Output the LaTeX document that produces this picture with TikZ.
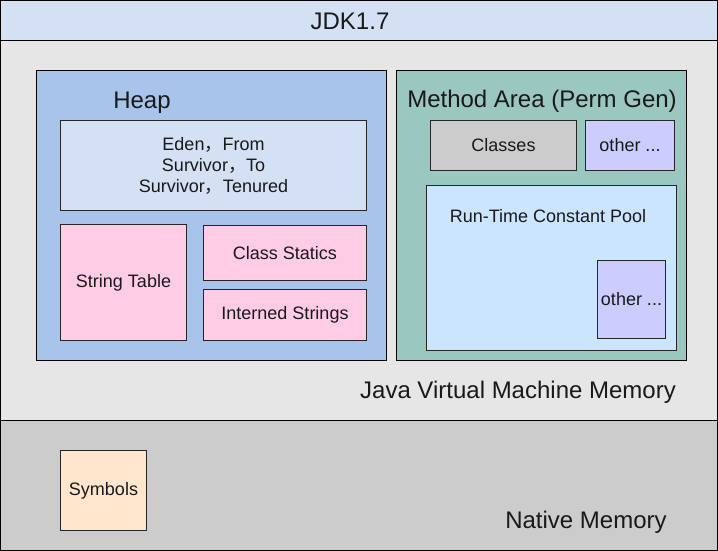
\documentclass[tikz,border=0pt]{standalone}
\usepackage{fontspec}
\setmainfont{Liberation Sans}
\newfontfamily\cjk{Noto Sans CJK SC}
\usepackage{tikz}
\usetikzlibrary{positioning}

\definecolor{jdkblue}{HTML}{D4E1F5}
\definecolor{jvmgray}{HTML}{E6E6E6}
\definecolor{nativegray}{HTML}{CCCCCC}
\definecolor{heapblue}{HTML}{A9C4EB}
\definecolor{permgreen}{HTML}{9AC7BF}
\definecolor{pinkbox}{HTML}{FFCCE6}
\definecolor{lilacbox}{HTML}{CCCCFF}
\definecolor{poolblue}{HTML}{CCE5FF}
\definecolor{peachbox}{HTML}{FFE6CC}

\begin{document}
\begin{tikzpicture}[x=1pt, y=-1pt,
areabox/.style={rectangle, draw=black, line width=1pt, anchor=north west, inner sep=0pt, outer sep=0pt},
squarednode/.style={rectangle, draw=black!85, line width=1pt, anchor=north west, inner sep=0pt, outer sep=0pt, font=\fontsize{18}{21}\selectfont, text=black!90, align=center},
titlenode/.style={inner sep=0pt, font=\fontsize{24}{28}\selectfont, text=black!90},
]
\useasboundingbox (0,0) rectangle (718,551);
%Areas
\node[areabox, fill=jdkblue, minimum width=717, minimum height=40]      (JDK)      at (0.5,0.5)  {};
\node[areabox, fill=jvmgray, minimum width=717, minimum height=380]     (JVM)      at (0.5,40.5) {};
\node[areabox, fill=nativegray, minimum width=717, minimum height=130]  (Native)   at (0.5,420.5) {};
\node[areabox, fill=heapblue, minimum width=350, minimum height=290]    (Heap)     at (36.5,70.5) {};
\node[areabox, fill=permgreen, minimum width=290, minimum height=290]   (PermGen)  at (396.5,70.5) {};

%Nodes
\node[squarednode, fill=jdkblue, minimum width=306, minimum height=90]   (Eden)     at (60.5,120.5)  {Eden{\cjk ，}From\\Survivor{\cjk ，}To\\Survivor{\cjk ，}Tenured};
\node[squarednode, fill=pinkbox, minimum width=126, minimum height=116]  (StringTable) at (60.5,224.5) {String Table};
\node[squarednode, fill=pinkbox, minimum width=163, minimum height=55]   (ClassStatics) at (203.5,225.5) {Class Statics};
\node[squarednode, fill=pinkbox, minimum width=163, minimum height=51]   (Interned) at (203.5,289.5) {Interned Strings};
\node[squarednode, fill=nativegray, minimum width=146, minimum height=50] (Classes) at (430.5,120.5) {Classes};
\node[squarednode, fill=lilacbox, minimum width=89, minimum height=50]   (OtherA)   at (585.5,120.5) {other ...};
\node[squarednode, fill=poolblue, minimum width=250, minimum height=165] (Pool)     at (426.5,185.5) {};
\node[squarednode, fill=lilacbox, minimum width=68, minimum height=78]   (OtherB)   at (597.5,260.5) {other ...};
\node[squarednode, fill=peachbox, minimum width=86, minimum height=80]   (Symbols)  at (60.5,450.5) {Symbols};

%Labels
\node[titlenode]                         (JDKLabel)     at (350,21)  {JDK1.7};
\node[titlenode]                         (HeapLabel)    at (142,103) {Heap};
\node[titlenode]                         (PermLabel)    at (542,101) {Method Area (Perm Gen)};
\node[inner sep=0pt, font=\fontsize{18}{21}\selectfont, text=black!90] (PoolLabel) at (548,216) {Run-Time Constant Pool};
\node[titlenode]                         (JVMLabel)     at (518,392) {Java Virtual Machine Memory};
\node[titlenode]                         (NativeLabel)  at (586,522) {Native Memory};

\end{tikzpicture}
\end{document}
